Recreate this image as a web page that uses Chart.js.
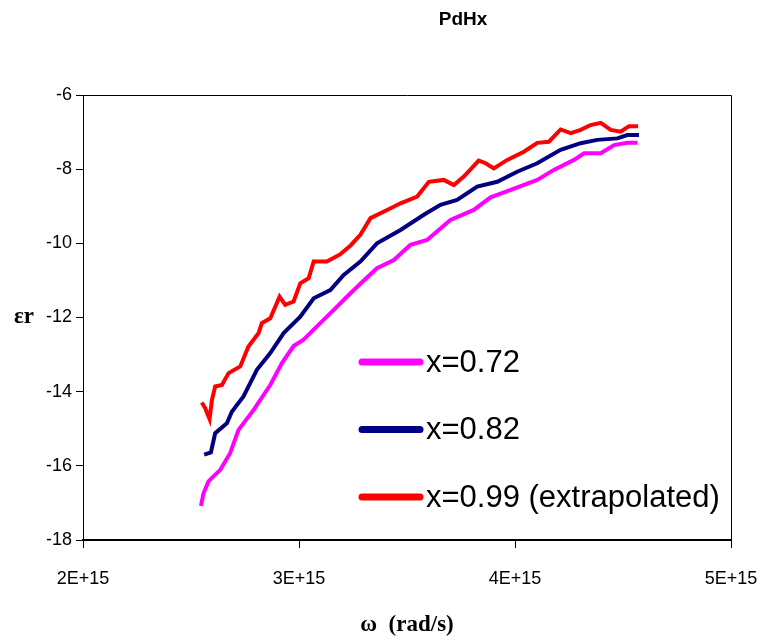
<!DOCTYPE html>
<html>
<head>
<meta charset="utf-8">
<script src="https://cdn.jsdelivr.net/npm/chart.js@4/dist/chart.umd.min.js"></script>
<style>
  html, body { margin: 0; padding: 0; background: #fff; }
  #wrap { width: 760px; height: 641px; }
</style>
</head>
<body>
<div id="wrap"><canvas id="pdhxChart" width="760" height="641"></canvas></div>
<script>
//Omega values are in units of 1E+15 rad/s
const OMEGA_UNIT = 1e15;

const labels = ["x=0.72", "x=0.82", "x=0.99 (extrapolated)"];
const colors = ["#ff00ff", "#000080", "#ff0000"];

const omega072 = [2.546, 2.558, 2.581, 2.610, 2.635, 2.681, 2.720, 2.790, 2.867, 2.921, 2.975, 3.021, 3.083, 3.160, 3.222, 3.284, 3.361, 3.439, 3.516, 3.593, 3.701, 3.809, 3.887, 3.980, 4.103, 4.180, 4.273, 4.320, 4.397, 4.459, 4.520, 4.567];
const eps072 = [-17.08, -16.74, -16.42, -16.25, -16.11, -15.66, -15.03, -14.49, -13.82, -13.23, -12.77, -12.60, -12.24, -11.80, -11.44, -11.09, -10.67, -10.45, -10.04, -9.91, -9.37, -9.10, -8.76, -8.56, -8.29, -8.02, -7.75, -7.57, -7.57, -7.35, -7.29, -7.29];

const omega082 = [2.561, 2.592, 2.612, 2.666, 2.689, 2.743, 2.805, 2.867, 2.929, 3.006, 3.068, 3.145, 3.207, 3.284, 3.361, 3.470, 3.578, 3.655, 3.732, 3.825, 3.918, 4.010, 4.103, 4.211, 4.304, 4.381, 4.474, 4.520, 4.574];
const eps082 = [-15.70, -15.64, -15.12, -14.85, -14.54, -14.13, -13.41, -12.96, -12.42, -11.98, -11.48, -11.26, -10.85, -10.49, -10.00, -9.64, -9.23, -8.96, -8.83, -8.47, -8.34, -8.07, -7.84, -7.48, -7.30, -7.21, -7.17, -7.08, -7.08];

const omega099 = [2.550, 2.566, 2.586, 2.597, 2.612, 2.643, 2.674, 2.728, 2.766, 2.813, 2.828, 2.867, 2.890, 2.910, 2.936, 2.975, 3.006, 3.045, 3.068, 3.129, 3.190, 3.240, 3.284, 3.331, 3.408, 3.470, 3.547, 3.601, 3.670, 3.717, 3.763, 3.832, 3.864, 3.902, 3.964, 4.041, 4.103, 4.157, 4.211, 4.258, 4.304, 4.350, 4.397, 4.443, 4.489, 4.528, 4.570];
const eps099 = [-14.29, -14.45, -14.74, -14.22, -13.86, -13.82, -13.50, -13.32, -12.78, -12.42, -12.15, -12.02, -11.71, -11.44, -11.66, -11.57, -11.08, -10.94, -10.49, -10.49, -10.30, -10.05, -9.77, -9.32, -9.10, -8.92, -8.74, -8.34, -8.29, -8.43, -8.20, -7.77, -7.84, -7.98, -7.75, -7.53, -7.29, -7.26, -6.93, -7.03, -6.94, -6.81, -6.75, -6.94, -6.99, -6.84, -6.84];

const xTicks = [2, 3, 4, 5];
const yTicks = [-18, -16, -14, -12, -10, -8, -6];

//Turn two arrays into {x, y} points
function toPoints(omegas, eps) {
    const pts = [];
    for (let i = 0; i < omegas.length; i++) {
        pts.push({ x: omegas[i] * OMEGA_UNIT, y: eps[i] });
    }
    return pts;
}

const seriesX = [omega072, omega082, omega099];
const seriesY = [eps072, eps082, eps099];

const datasets = [];
for (let i = 0; i < labels.length; i++) {
    datasets.push({
        label: labels[i],
        data: toPoints(seriesX[i], seriesY[i]),
        borderColor: colors[i],
        backgroundColor: colors[i],
        borderWidth: 4,
        pointRadius: 0,
        tension: 0,
        fill: false
    });
}

//Draws title, the y label, the box lines and the legend inside the plot
const extrasPlugin = {
    id: "extras",
    afterDraw(chart) {
        const ctx = chart.ctx;
        const area = chart.chartArea;
        ctx.save();

        //top and right frame lines
        ctx.strokeStyle = "#000";
        ctx.lineWidth = 1;
        ctx.beginPath();
        ctx.moveTo(area.left, area.top + 0.5);
        ctx.lineTo(area.right + 0.5, area.top + 0.5);
        ctx.lineTo(area.right + 0.5, area.bottom);
        ctx.stroke();

        //title
        ctx.fillStyle = "#000";
        ctx.font = "bold 19px 'Liberation Sans', Arial, sans-serif";
        ctx.textAlign = "center";
        ctx.textBaseline = "middle";
        ctx.fillText("PdHx", area.left + 380, 20);

        //y axis label, horizontal
        ctx.font = "bold 23px 'Liberation Serif', 'Times New Roman', serif";
        ctx.fillText("\u03b5r", 24, (area.top + area.bottom) / 2);

        //legend
        ctx.font = "31px 'Liberation Sans', Arial, sans-serif";
        ctx.textAlign = "left";
        const lx = area.left + 279;
        for (let i = 0; i < chart.data.datasets.length; i++) {
            const ds = chart.data.datasets[i];
            const ly = area.top + 267 + i * 67.5;
            ctx.strokeStyle = ds.borderColor;
            ctx.lineWidth = 7;
            ctx.lineCap = "round";
            ctx.beginPath();
            ctx.moveTo(lx, ly);
            ctx.lineTo(lx + 58, ly);
            ctx.stroke();
            ctx.fillStyle = "#000";
            ctx.fillText(ds.label, lx + 64, ly + 1);
        }
        ctx.restore();
    }
};

const ctx = document.getElementById("pdhxChart").getContext("2d");
new Chart(ctx, {
    type: "line",
    data: { datasets: datasets },
    options: {
        responsive: false,
        animation: false,
        layout: { padding: { top: 95, right: 29, left: 0, bottom: 0 } },
        plugins: {
            legend: { display: false },
            title: { display: false },
            tooltip: { enabled: false }
        },
        scales: {
            x: {
                type: "linear",
                min: xTicks[0] * OMEGA_UNIT,
                max: xTicks[xTicks.length - 1] * OMEGA_UNIT,
                afterBuildTicks: (scale) => {
                    scale.ticks = xTicks.map(v => ({ value: v * OMEGA_UNIT }));
                },
                afterFit: (scale) => {
                    scale.height = 101;
                    scale.paddingLeft = 0;
                    scale.paddingRight = 0;
                },
                ticks: {
                    color: "#000",
                    font: { family: "'Liberation Sans', Arial, sans-serif", size: 18 },
                    padding: 20,
                    maxRotation: 0,
                    callback: (v) => (v / OMEGA_UNIT) + "E+15"
                },
                grid: {
                    drawOnChartArea: false,
                    drawTicks: true,
                    tickLength: 8,
                    tickColor: "#000",
                    tickWidth: 1
                },
                border: { display: true, color: "#000", width: 2 },
                title: {
                    display: true,
                    text: "\u03c9  (rad/s)",
                    color: "#000",
                    font: { family: "'Liberation Serif', 'Times New Roman', serif", size: 23, weight: "bold" },
                    padding: { top: 0, bottom: 2 }
                }
            },
            y: {
                type: "linear",
                min: yTicks[0],
                max: yTicks[yTicks.length - 1],
                afterBuildTicks: (scale) => {
                    scale.ticks = yTicks.map(v => ({ value: v }));
                },
                afterFit: (scale) => { scale.width = 83; },
                ticks: {
                    color: "#000",
                    font: { family: "'Liberation Sans', Arial, sans-serif", size: 18 },
                    padding: 4
                },
                grid: {
                    drawOnChartArea: false,
                    drawTicks: true,
                    tickLength: 7,
                    tickColor: "#000",
                    tickWidth: 1
                },
                border: { display: true, color: "#000", width: 1 }
            }
        }
    },
    plugins: [extrasPlugin]
});
</script>
</body>
</html>
